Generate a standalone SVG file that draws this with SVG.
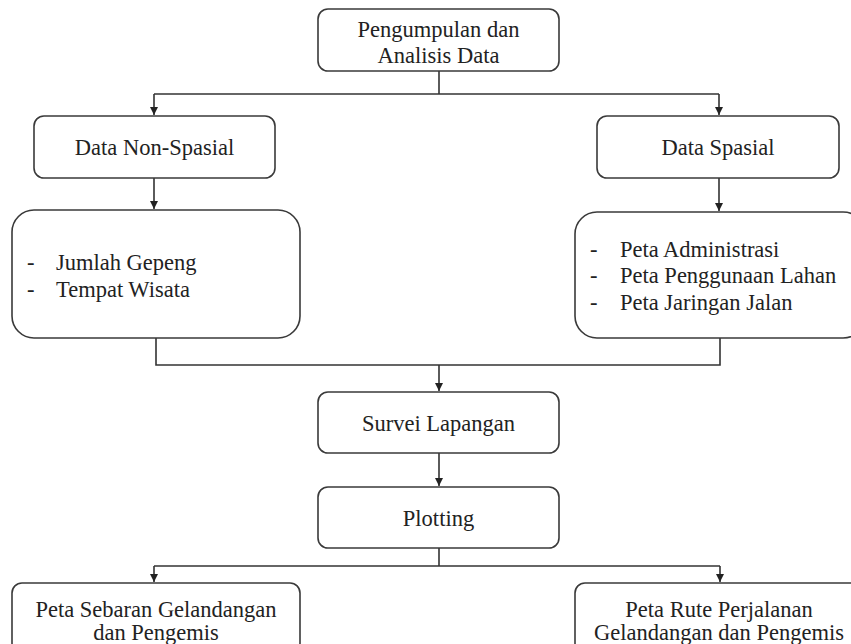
<svg xmlns="http://www.w3.org/2000/svg" width="851" height="644" viewBox="0 0 851 644">
<style>
.box{fill:#fff;stroke:#3a3a3a;stroke-width:1.6}
.t{font-family:"Liberation Serif","Times New Roman",serif;font-size:22.5px;fill:#222}
.c{text-anchor:middle}
.ln{fill:none;stroke:#333;stroke-width:1.6}
</style>
<defs>
<marker id="ah" markerUnits="userSpaceOnUse" markerWidth="10" markerHeight="10" refX="8" refY="4" orient="auto">
<path d="M0,0 L8,4 L0,8 Z" fill="#222"/>
</marker>
</defs>
<rect width="851" height="644" fill="#fff"/>
<g id="connectors">
<path class="ln" d="M439,71 V94"/>
<path class="ln" d="M154,94 H719"/>
<path class="ln" d="M154,94 V115" marker-end="url(#ah)"/>
<path class="ln" d="M719,94 V115" marker-end="url(#ah)"/>
<path class="ln" d="M154,178 V209" marker-end="url(#ah)"/>
<path class="ln" d="M719,178 V211" marker-end="url(#ah)"/>
<path class="ln" d="M156,338 V365 H720 V338"/>
<path class="ln" d="M439,365 V391" marker-end="url(#ah)"/>
<path class="ln" d="M439,453 V486" marker-end="url(#ah)"/>
<path class="ln" d="M439,548 V566"/>
<path class="ln" d="M154,566 H720"/>
<path class="ln" d="M154,566 V582" marker-end="url(#ah)"/>
<path class="ln" d="M720,566 V582" marker-end="url(#ah)"/>
</g>
<g id="n-pengumpulan">
<rect class="box" x="318" y="9" width="241" height="62" rx="10"/>
<text class="t c" x="438.5" y="37">Pengumpulan dan</text>
<text class="t c" x="438.5" y="63">Analisis Data</text>
</g>
<g id="n-nonspasial">
<rect class="box" x="34" y="116" width="241" height="62" rx="10"/>
<text class="t c" x="154.5" y="155">Data Non-Spasial</text>
</g>
<g id="n-spasial">
<rect class="box" x="597" y="116" width="242" height="62" rx="10"/>
<text class="t c" x="718" y="155">Data Spasial</text>
</g>
<g id="n-list-nonspasial">
<rect class="box" x="12" y="210" width="288" height="128" rx="22"/>
<text class="t" x="27" y="270">-</text>
<text class="t" x="56" y="270">Jumlah Gepeng</text>
<text class="t" x="27" y="297">-</text>
<text class="t" x="56" y="297">Tempat Wisata</text>
</g>
<g id="n-list-spasial">
<rect class="box" x="575" y="212" width="290" height="126" rx="22"/>
<text class="t" x="590" y="257">-</text>
<text class="t" x="620" y="257">Peta Administrasi</text>
<text class="t" x="590" y="283">-</text>
<text class="t" x="620" y="283">Peta Penggunaan Lahan</text>
<text class="t" x="590" y="310">-</text>
<text class="t" x="620" y="310">Peta Jaringan Jalan</text>
</g>
<g id="n-survei">
<rect class="box" x="318" y="392" width="241" height="61" rx="10"/>
<text class="t c" x="438.5" y="431">Survei Lapangan</text>
</g>
<g id="n-plotting">
<rect class="box" x="318" y="487" width="241" height="61" rx="10"/>
<text class="t c" x="438.5" y="526">Plotting</text>
</g>
<g id="n-sebaran">
<rect class="box" x="12" y="583" width="288" height="70" rx="10"/>
<text class="t c" x="156" y="617">Peta Sebaran Gelandangan</text>
<text class="t c" x="156" y="640">dan Pengemis</text>
</g>
<g id="n-rute">
<rect class="box" x="575" y="583" width="290" height="70" rx="10"/>
<text class="t c" x="719" y="617">Peta Rute Perjalanan</text>
<text class="t c" x="719" y="640">Gelandangan dan Pengemis</text>
</g>
</svg>
